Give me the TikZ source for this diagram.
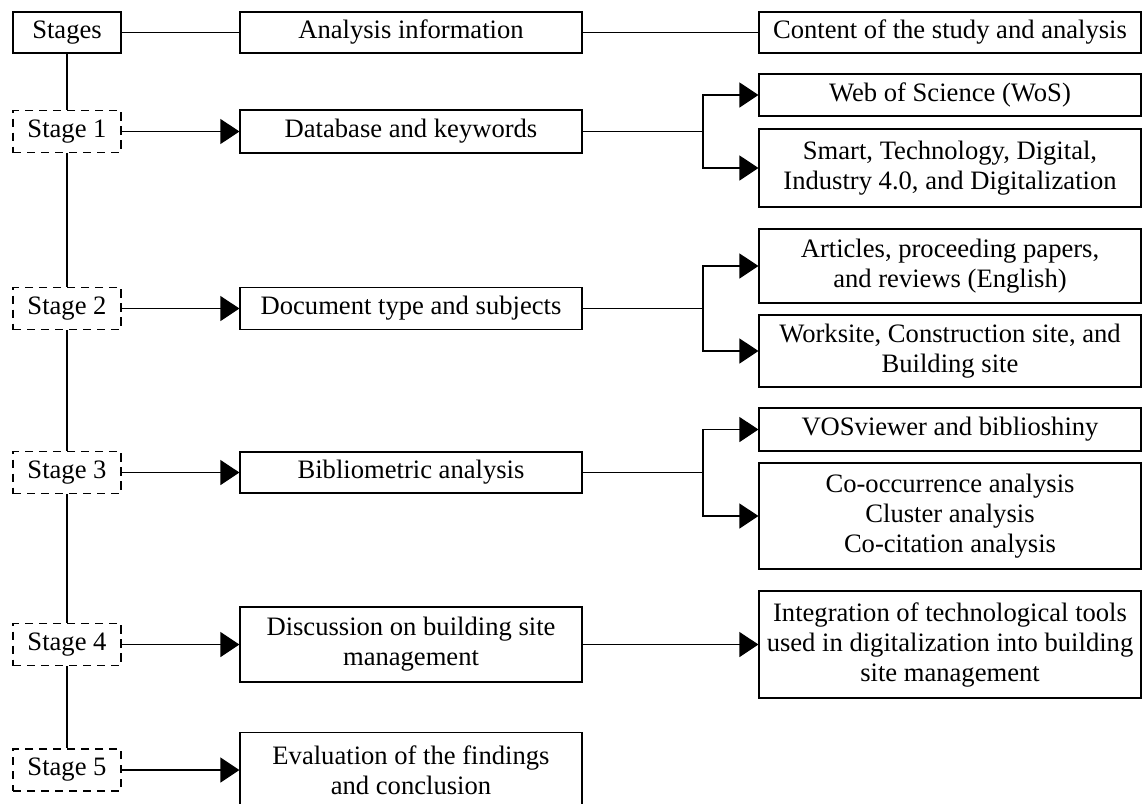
\documentclass[tikz,border=0pt]{standalone}
\usepackage{fontspec}
\setmainfont{Liberation Serif}
\usetikzlibrary{arrows.meta}

\tikzset{
	box/.style={shape=rectangle, draw=black, align=center, inner sep=0pt, font=\fontsize{13.3}{15}\selectfont},
	stagebox/.style={box, dash pattern=on 4.2pt off 2.8pt, minimum width=54pt, minimum height=21pt},
	midbox/.style={box, minimum width=171pt},
	outbox/.style={box, minimum width=191pt},
	fwd/.style={-{Triangle[length=9.5pt,width=12.5pt]}}
}

\begin{document}
\begin{tikzpicture}[x=0.5pt, y=-0.5pt, line width=0.6pt]
	
	\clip (0,0) rectangle (1144,803);
	
	% header row
	\node[box, minimum width=54pt, minimum height=20.5pt] (stages)  at (67, 32.5)  {Stages};
	\node[midbox, minimum height=20.5pt]                  (info)    at (411, 32.5) {Analysis information};
	\node[outbox, minimum height=20.5pt]                  (content) at (950, 32.5) {Content of the study and analysis};
	
	% stages
	\node[stagebox] (s1) at (67, 131.5) {Stage 1};
	\node[stagebox] (s2) at (67, 308.5) {Stage 2};
	\node[stagebox] (s3) at (67, 472.5) {Stage 3};
	\node[stagebox] (s4) at (67, 644.5) {Stage 4};
	\node[stagebox] (s5) at (67, 770)   {Stage 5};
	
	% analysis information
	\node[midbox, minimum height=21.5pt] (db)   at (411, 131.5) {Database and keywords};
	\node[midbox, minimum height=21pt]   (doc)  at (411, 308.5) {Document type and subjects};
	\node[midbox, minimum height=20.5pt] (bib)  at (411, 472.5) {Bibliometric analysis};
	\node[midbox, minimum height=37.5pt] (disc) at (411, 644.5) {Discussion on building site\\management};
	\node[midbox, minimum height=37.5pt] (eval) at (411, 770)   {Evaluation of the findings\\and conclusion};
	
	% content of the study
	\node[outbox, minimum height=21pt]   (wos)   at (950, 95)    {Web of Science (WoS)};
	\node[outbox, minimum height=39pt]   (kw)    at (950, 168)   {Smart, Technology, Digital,\\Industry 4.0, and Digitalization};
	\node[outbox, minimum height=37pt]   (art)   at (950, 266)   {Articles, proceeding papers,\\and reviews (English)};
	\node[outbox, minimum height=36pt]   (site)  at (950, 351)   {Worksite, Construction site, and\\Building site};
	\node[outbox, minimum height=21.5pt] (vos)   at (950, 429.5) {VOSviewer and biblioshiny};
	\node[outbox, minimum height=53pt]   (occ)   at (950, 516)   {Co-occurrence analysis\\Cluster analysis\\Co-citation analysis};
	\node[outbox, minimum height=53.5pt] (integ) at (950, 644.5) {Integration of technological tools\\used in digitalization into building\\site management};
	
	\coordinate (j1) at (703, 131.5);
	\coordinate (j2) at (703, 308.5);
	\coordinate (j3) at (703, 472.5);
	
	\draw (stages) -- (info);
	\draw (info) -- (content);
	
	\draw (stages) -- (s1);
	\draw (s1) -- (s2);
	\draw (s2) -- (s3);
	\draw (s3) -- (s4);
	\draw (s4) -- (s5);
	
	\draw[fwd] (s1) -- (db);
	\draw[fwd] (s2) -- (doc);
	\draw[fwd] (s3) -- (bib);
	\draw[fwd] (s4) -- (disc);
	\draw[fwd] (s5) -- (eval);
	
	\draw (db) -- (j1);
	\draw[fwd] (j1) |- (wos);
	\draw[fwd] (j1) |- (kw);
	\draw (doc) -- (j2);
	\draw[fwd] (j2) |- (art);
	\draw[fwd] (j2) |- (site);
	\draw (bib) -- (j3);
	\draw[fwd] (j3) |- (vos);
	\draw[fwd] (j3) |- (occ);
	\draw[fwd] (disc) -- (integ);
	
\end{tikzpicture}
\end{document}
